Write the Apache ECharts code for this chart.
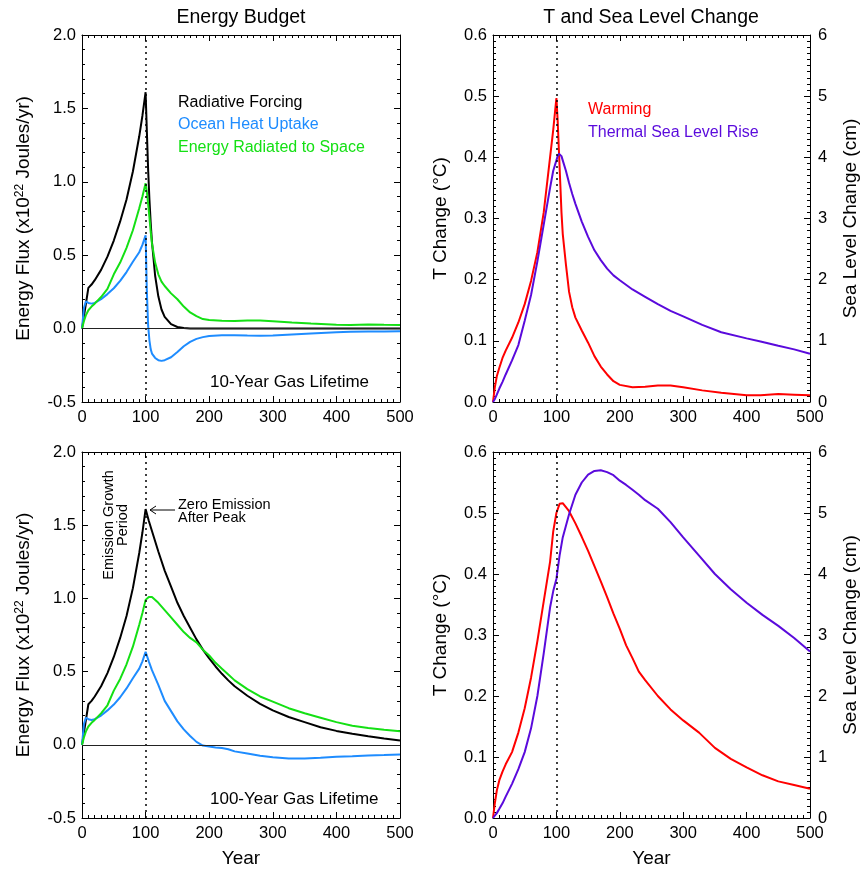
<!DOCTYPE html>
<html>
<head>
<meta charset="utf-8">
<script src="https://cdn.jsdelivr.net/npm/echarts@6/dist/echarts.min.js"></script>
<style>
html,body{margin:0;padding:0;background:#fff;}
#chart{width:862px;height:869px;}
</style>
</head>
<body>
<div id="chart"></div>
<script>
// ---------- DATA ----------
// Top row: 10-year gas lifetime
const yearsTop = [0,3,6,10,15,20,30,40,50,60,70,80,90,95,100,102,104,106,108,110,115,120,125,130,140,150,160,170,180,190,200,220,240,260,280,300,330,360,400,422,425,450,475,500];
const forcingTop = [0,0.083,0.166,0.277,0.30,0.33,0.40,0.49,0.60,0.73,0.88,1.07,1.31,1.45,1.61,1.34,1.08,0.88,0.72,0.59,0.36,0.22,0.13,0.08,0.03,0.011,0.004,0.001,0,0,0,0,0,0,0,0,0,0,0,0,0,0,0,0];
const oceanTop = [0,0.14,0.185,0.175,0.17,0.175,0.20,0.235,0.275,0.325,0.385,0.455,0.52,0.57,0.635,0.25,0.02,-0.08,-0.14,-0.17,-0.20,-0.215,-0.22,-0.215,-0.195,-0.16,-0.12,-0.09,-0.07,-0.058,-0.05,-0.045,-0.045,-0.047,-0.048,-0.047,-0.04,-0.033,-0.025,-0.022,-0.02,-0.02,-0.02,-0.018];
const spaceTop = [0,0.05,0.09,0.125,0.15,0.17,0.215,0.27,0.37,0.45,0.55,0.67,0.82,0.90,0.99,0.93,0.85,0.76,0.66,0.58,0.45,0.37,0.32,0.29,0.24,0.20,0.15,0.11,0.085,0.065,0.058,0.053,0.052,0.055,0.055,0.05,0.042,0.035,0.027,0.025,0.03,0.028,0.026,0.025];
const warmTop = [0,0.025,0.042,0.056,0.072,0.084,0.105,0.13,0.16,0.198,0.245,0.31,0.40,0.445,0.497,0.46,0.41,0.36,0.31,0.275,0.225,0.18,0.155,0.138,0.117,0.097,0.075,0.058,0.045,0.034,0.028,0.024,0.025,0.027,0.027,0.024,0.019,0.015,0.011,0.011,0.014,0.013,0.012,0.011];
const seaTop = [0,0.05,0.12,0.22,0.33,0.45,0.68,0.93,1.33,1.75,2.3,2.9,3.5,3.78,3.95,4.02,4.06,4.06,4.02,3.95,3.78,3.58,3.40,3.24,2.95,2.70,2.48,2.32,2.18,2.07,1.99,1.84,1.72,1.60,1.49,1.40,1.26,1.14,1.04,0.99,0.98,0.92,0.86,0.79];

// Bottom row: 100-year gas lifetime
const yearsBot = [0,3,6,10,15,20,30,40,50,60,70,80,90,95,100,105,110,120,130,140,150,160,170,180,190,200,210,220,230,240,260,280,300,325,350,375,400,425,450,475,500];
const forcingBot = [0,0.083,0.166,0.277,0.30,0.33,0.40,0.49,0.60,0.73,0.88,1.07,1.31,1.45,1.61,1.53,1.46,1.32,1.19,1.08,0.97,0.88,0.80,0.72,0.65,0.59,0.535,0.485,0.44,0.40,0.335,0.28,0.235,0.19,0.155,0.12,0.095,0.075,0.058,0.043,0.03];
const oceanBot = [0,0.14,0.185,0.175,0.17,0.175,0.20,0.235,0.275,0.325,0.385,0.455,0.52,0.57,0.635,0.57,0.51,0.41,0.30,0.23,0.16,0.105,0.06,0.02,-0.005,-0.012,-0.018,-0.022,-0.03,-0.045,-0.06,-0.075,-0.085,-0.093,-0.093,-0.088,-0.082,-0.078,-0.073,-0.07,-0.066];
const spaceBot = [0,0.05,0.09,0.125,0.15,0.17,0.215,0.27,0.37,0.45,0.55,0.67,0.82,0.90,0.99,1.01,1.01,0.97,0.92,0.87,0.82,0.77,0.73,0.70,0.65,0.61,0.56,0.52,0.48,0.44,0.38,0.33,0.295,0.25,0.215,0.185,0.155,0.13,0.115,0.102,0.093];
const warmBot = [0,0.025,0.045,0.062,0.076,0.088,0.108,0.14,0.18,0.23,0.29,0.355,0.42,0.47,0.50,0.515,0.516,0.503,0.483,0.461,0.438,0.413,0.388,0.362,0.335,0.31,0.283,0.262,0.24,0.226,0.20,0.178,0.16,0.14,0.115,0.097,0.083,0.07,0.06,0.054,0.048];
const seaBot = [0,0.02,0.08,0.15,0.24,0.35,0.56,0.80,1.08,1.47,2.0,2.7,3.45,3.72,3.92,4.3,4.6,4.98,5.3,5.5,5.63,5.69,5.7,5.67,5.62,5.53,5.46,5.38,5.3,5.21,5.07,4.85,4.6,4.3,4.0,3.75,3.53,3.33,3.15,2.95,2.73];

// Axis ranges / tick steps
const yearRange = [0, 500, 100];
const fluxRange = [-0.5, 2.0, 0.5];
const tempRange = [0, 0.6, 0.1];
const seaRange = [0, 6, 1];
const peakYear = 100;

// ---------- CHART ----------
const FONT = '"Liberation Sans", Arial, Helvetica, sans-serif';
const C_BLACK = '#000000', C_BLUE = '#1e8cff', C_GREEN = '#14e014', C_RED = '#ff0000', C_PURPLE = '#5a0adc';
const pair = (xs, ys) => xs.map((x, i) => [x, ys[i]]);

const grids = [
  {left: 82, top: 35, width: 318, height: 367},
  {left: 493, top: 35, width: 317, height: 367},
  {left: 82, top: 452, width: 318, height: 366},
  {left: 493, top: 452, width: 317, height: 366}
];

function baseAxis(extra) {
  return Object.assign({
    type: 'value',
    axisLine: {show: true, onZero: false, lineStyle: {color: '#000', width: 1}},
    axisTick: {show: true, inside: true, length: 6, lineStyle: {color: '#000', width: 1}},
    minorTick: {show: true, splitNumber: 10, length: 3, lineStyle: {color: '#000', width: 1}},
    splitLine: {show: false},
    minorSplitLine: {show: false},
    axisLabel: {color: '#000', fontSize: 16.5, fontFamily: FONT, margin: 7}
  }, extra);
}

const xAxes = [];
const yAxes = [];
grids.forEach((g, gi) => {
  const bottomRow = gi >= 2;
  xAxes.push(baseAxis({gridIndex: gi, position: 'bottom', min: yearRange[0], max: yearRange[1], interval: yearRange[2],
    name: bottomRow ? 'Year' : '', nameLocation: 'middle', nameGap: 31,
    nameTextStyle: {color: '#000', fontSize: 19, fontFamily: FONT}}));
  xAxes.push(baseAxis({gridIndex: gi, position: 'top', min: yearRange[0], max: yearRange[1], interval: yearRange[2],
    axisLabel: {show: false}}));
  const leftPanel = gi % 2 === 0;
  if (leftPanel) {
    yAxes.push(baseAxis({gridIndex: gi, position: 'left', min: fluxRange[0], max: fluxRange[1], interval: fluxRange[2],
      minorTick: {show: true, splitNumber: 5, length: 3, lineStyle: {color: '#000'}},
      axisLabel: {color: '#000', fontSize: 16.5, fontFamily: FONT, margin: 6, formatter: v => v.toFixed(1)},
      name: 'Energy Flux (x10{sup|22} Joules/yr)', nameLocation: 'middle', nameRotate: 90, nameGap: 49,
      nameTextStyle: {color: '#000', fontSize: 19, fontFamily: FONT,
        rich: {sup: {fontSize: 12, fontFamily: FONT, color: '#000', verticalAlign: 'top'}}}}));
    yAxes.push(baseAxis({gridIndex: gi, position: 'right', min: fluxRange[0], max: fluxRange[1], interval: fluxRange[2],
      minorTick: {show: true, splitNumber: 5, length: 3, lineStyle: {color: '#000'}},
      axisLabel: {show: false}}));
  } else {
    yAxes.push(baseAxis({gridIndex: gi, position: 'left', min: tempRange[0], max: tempRange[1], interval: tempRange[2],
      axisLabel: {color: '#000', fontSize: 16.5, fontFamily: FONT, margin: 6, formatter: v => v.toFixed(1)},
      name: 'T Change (°C)', nameLocation: 'middle', nameRotate: 90, nameGap: 43,
      nameTextStyle: {color: '#000', fontSize: 19, fontFamily: FONT}}));
    yAxes.push(baseAxis({gridIndex: gi, position: 'right', min: seaRange[0], max: seaRange[1], interval: seaRange[2],
      axisLabel: {color: '#000', fontSize: 16.5, fontFamily: FONT, margin: 8},
      name: 'Sea Level Change (cm)', nameLocation: 'middle', nameRotate: 90, nameGap: 31,
      nameTextStyle: {color: '#000', fontSize: 19, fontFamily: FONT}}));
  }
});

function line(name, gi, yIdx, xs, ys, color, markLine) {
  const s = {
    name: name, type: 'line', xAxisIndex: gi * 2, yAxisIndex: yIdx,
    data: pair(xs, ys), showSymbol: false, symbol: 'none', smooth: false,
    lineStyle: {color: color, width: 2}, itemStyle: {color: color},
    silent: true, animation: false, z: 3
  };
  if (markLine) s.markLine = markLine;
  return s;
}

function refLines(withZero) {
  const data = [{xAxis: peakYear, lineStyle: {type: [2, 4], color: '#000', width: 1.5}}];
  if (withZero) data.push({yAxis: 0, lineStyle: {type: 'solid', color: '#222', width: 1.2}});
  return {silent: true, symbol: 'none', label: {show: false}, animation: false, data: data};
}

const series = [
  line('Radiative Forcing', 0, 0, yearsTop, forcingTop, C_BLACK, refLines(true)),
  line('Ocean Heat Uptake', 0, 0, yearsTop, oceanTop, C_BLUE),
  line('Energy Radiated to Space', 0, 0, yearsTop, spaceTop, C_GREEN),
  line('Warming', 1, 2, yearsTop, warmTop, C_RED, refLines(false)),
  line('Thermal Sea Level Rise', 1, 3, yearsTop, seaTop, C_PURPLE),
  line('Radiative Forcing', 2, 4, yearsBot, forcingBot, C_BLACK, refLines(true)),
  line('Ocean Heat Uptake', 2, 4, yearsBot, oceanBot, C_BLUE),
  line('Energy Radiated to Space', 2, 4, yearsBot, spaceBot, C_GREEN),
  line('Warming', 3, 6, yearsBot, warmBot, C_RED, refLines(false)),
  line('Thermal Sea Level Rise', 3, 7, yearsBot, seaBot, C_PURPLE)
];

function txt(text, x, y, color, size, extra) {
  return Object.assign({
    type: 'text', x: x, y: y, silent: true, z: 10,
    style: {text: text, fill: color, font: size + 'px ' + FONT, align: 'left', verticalAlign: 'middle'}
  }, extra || {});
}

const graphic = [
  txt('Energy Budget', 241, 18, '#000', 19.5, {style: {text: 'Energy Budget', fill: '#000', font: '19.5px ' + FONT, align: 'center', verticalAlign: 'middle'}}),
  txt('T and Sea Level Change', 651, 18, '#000', 19.5, {style: {text: 'T and Sea Level Change', fill: '#000', font: '19.5px ' + FONT, align: 'center', verticalAlign: 'middle'}}),
  txt('Radiative Forcing', 178, 103, C_BLACK, 16),
  txt('Ocean Heat Uptake', 178, 125, C_BLUE, 16),
  txt('Energy Radiated to Space', 178, 148, C_GREEN, 16),
  txt('10-Year Gas Lifetime', 210, 382, '#000', 17),
  txt('Warming', 588, 110, C_RED, 16),
  txt('Thermal Sea Level Rise', 588, 133, C_PURPLE, 16),
  txt('100-Year Gas Lifetime', 210, 799, '#000', 17),
  {type: 'text', x: 116, y: 525, rotation: Math.PI / 2, silent: true, z: 10,
    style: {text: 'Emission Growth\nPeriod', fill: '#000', font: '14.5px ' + FONT, align: 'center', verticalAlign: 'middle', lineHeight: 14}},
  {type: 'text', x: 178, y: 511, silent: true, z: 10,
    style: {text: 'Zero Emission\nAfter Peak', fill: '#000', font: '14.5px ' + FONT, align: 'left', verticalAlign: 'middle', lineHeight: 13}},
  {type: 'line', silent: true, z: 10, shape: {x1: 150, y1: 510, x2: 175, y2: 510}, style: {stroke: '#000', lineWidth: 1}},
  {type: 'polyline', silent: true, z: 10, shape: {points: [[156, 506], [150, 510], [156, 514]]}, style: {stroke: '#000', fill: null, lineWidth: 1}}
];

const chart = echarts.init(document.getElementById('chart'), null, {renderer: 'canvas'});
chart.setOption({
  backgroundColor: '#fff',
  animation: false,
  textStyle: {fontFamily: FONT},
  grid: grids,
  xAxis: xAxes,
  yAxis: yAxes,
  series: series,
  graphic: graphic
});
</script>
</body>
</html>
